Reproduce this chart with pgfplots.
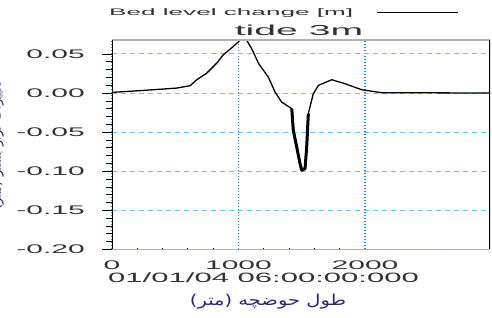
\documentclass[border=0pt]{standalone}
\usepackage{pgfplots}
\pgfplotsset{compat=1.18}
\usepackage{fontspec}
\setmainfont{Liberation Sans}
\newfontfamily\fa[Script=Arabic]{DejaVu Sans}
\TeXXeTstate=1
\usepackage{graphicx}
\definecolor{gridy}{RGB}{100,200,255}
\definecolor{gridx}{RGB}{20,140,240}
\definecolor{fatext}{RGB}{45,35,115}
\newcommand{\tl}[1]{\scalebox{2.4}[1]{\fontsize{12.5}{13}\selectfont #1}}
\begin{document}
\begin{tikzpicture}[x=1pt,y=1pt]
\useasboundingbox (0,0) rectangle (492,318);
\begin{axis}[at={(112pt,68.5pt)}, anchor=south west, scale only axis,
  width=378pt, height=209.5pt,
  xmin=0, xmax=2988, ymin=-0.2, ymax=0.0679,
  axis line style={draw=none},
  xtick={0,1000,2000}, xticklabels={\tl{0},\tl{1000},\tl{2000}},
  ytick={-0.2,-0.15,-0.1,-0.05,0,0.05},
  yticklabels={\tl{-0.20},\tl{-0.15},\tl{-0.10},\tl{-0.05},\tl{0.00},\tl{0.05}},
  minor x tick num=4, minor y tick num=4,
  tick pos=left, xtick align=inside, ytick align=outside,
  major tick length=10pt, minor tick length=6pt,
  tick style={black, line width=0.8pt},
  major x tick style={draw=none},
  minor x tick style={black, line width=1pt, dash pattern=on 1.5pt off 10pt},
  ticklabel style={text=black!80},
  yticklabel style={anchor=east, inner sep=0pt},
  yticklabel shift=17pt,
  xticklabel shift=8pt,
  grid=major,
  x grid style={gridx, line width=1.2pt, dash pattern=on 1.2pt off 1.8pt},
  y grid style={gridy, line width=1pt, dash pattern=on 5pt off 4pt},
]
\addplot[black, line width=1.3pt, line join=round] coordinates {
(0,0.0009) (247,0.0034) (511,0.0064) (617,0.0094) (670,0.0171) (749,0.0255)
(828,0.0383) (880,0.049) (959,0.0596) (1012,0.0675) (1065,0.0675) (1110,0.055)
(1157,0.0383) (1236,0.0204) (1289,0.0013) (1341,-0.0115) (1421,-0.0199)
(1433,-0.0476) (1460,-0.0689) (1486,-0.0901) (1500,-0.0986) (1526,-0.0965)
(1539,-0.0689) (1552,-0.0263) (1591,-0.0008) (1631,0.0098) (1737,0.0171)
(1842,0.012) (1974,0.0043) (2132,0.0005) (2303,0.0005) (2600,0.0003) (2988,0.0)
};
\addplot[black, line width=3pt, line join=round] coordinates {
(1421,-0.0199) (1433,-0.0476) (1460,-0.0689) (1486,-0.0901) (1500,-0.0986)
(1526,-0.0965) (1539,-0.0689) (1552,-0.0263)
};
\draw[gray!60, line width=1.2pt] (rel axis cs:0,1) -- (rel axis cs:1,1);
\draw[gray!60, line width=1pt] (rel axis cs:0,0) -- (rel axis cs:1,0);
\draw[gridy, line width=1pt, dash pattern=on 5pt off 4pt] (rel axis cs:0,0) -- (rel axis cs:1,0);
\draw[black, line width=1.3pt] (rel axis cs:0,0) -- (rel axis cs:0,1);
\draw[black, line width=2pt] (rel axis cs:1,0) -- (rel axis cs:1,1);
\end{axis}
\node[anchor=west, inner sep=0, text=black!80] at (109,305)
  {\scalebox{2.75}[1]{\fontsize{9.5}{10}\selectfont Bed level change [m]}};
\draw[black, line width=1.5pt] (377,305.3) -- (458,305.3);
\node[anchor=base, inner sep=0, text=black!80] at (299,282.3)
  {\scalebox{2.7}[1]{\fontsize{14.5}{15}\selectfont tide 3m}};
\node[anchor=west, inner sep=0, text=black!80] at (108,40.5)
  {\scalebox{2.3}[1]{\fontsize{13.5}{14}\selectfont 01/01/04 06:00:00:000}};
\node[inner sep=0, text=fatext] at (268,16)
  {\scalebox{1.3}[1]{\fontsize{15}{16}\fa\beginR طول حوضچه (متر)\endR}};
\node[rotate=90, anchor=south, inner sep=0, text=fatext] at (4,173)
  {\fontsize{13}{14}\fa\beginR تغییرات تراز بستر (متر)\endR};
\end{tikzpicture}
\end{document}
